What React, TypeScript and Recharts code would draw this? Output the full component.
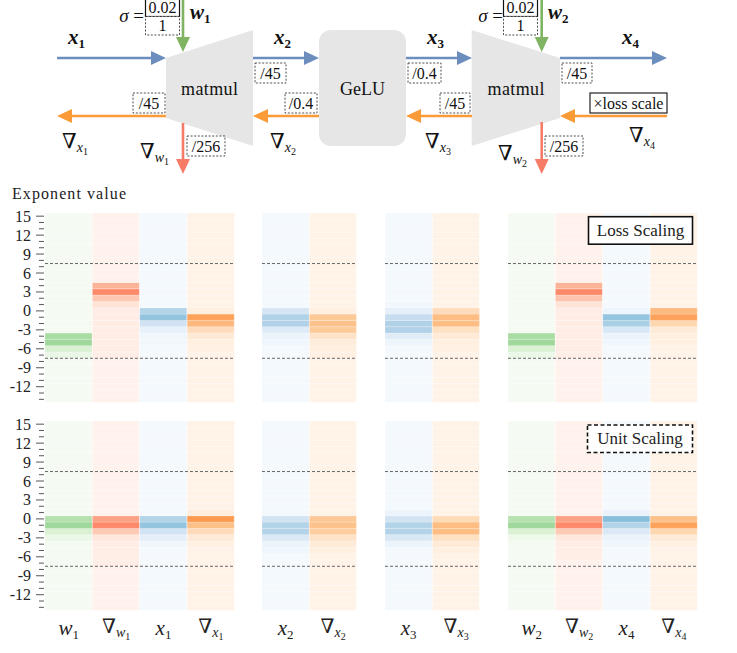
import React from 'react';
import { BarChart, Bar, XAxis, YAxis, Cell, ReferenceLine } from 'recharts';

// exponent bins (one heatmap row each) and the dashed range markers
const exponents = [-14, -13, -12, -11, -10, -9, -8, -7, -6, -5, -4, -3, -2, -1, 0, 1, 2, 3, 4, 5, 6, 7, 8, 9, 10, 11, 12, 13, 14, 15];
const labelledTicks = [-12, -9, -6, -3, 0, 3, 6, 9, 12, 15];
const rangeLines = [7.5, -7.5];
const backgroundLevel = 0.015;

// columns: kind picks the colour map, sub is the index
const group1 = [
  { id: 'w1', kind: 'w', sub: '1' },
  { id: 'gw1', kind: 'gw', sub: '1' },
  { id: 'x1', kind: 'x', sub: '1' },
  { id: 'gx1', kind: 'gx', sub: '1' },
];
const group2 = [
  { id: 'x2', kind: 'x', sub: '2' },
  { id: 'gx2', kind: 'gx', sub: '2' },
];
const group3 = [
  { id: 'x3', kind: 'x', sub: '3' },
  { id: 'gx3', kind: 'gx', sub: '3' },
];
const group4 = [
  { id: 'w2', kind: 'w', sub: '2' },
  { id: 'gw2', kind: 'gw', sub: '2' },
  { id: 'x4', kind: 'x', sub: '4' },
  { id: 'gx4', kind: 'gx', sub: '4' },
];

// [exponent, colour level]
const lossW1 = [[-4, 0.35], [-5, 0.38], [-6, 0.175], [-7, 0.09]];
const lossGw1 = [[4, 0.27], [3, 0.4], [2, 0.21], [1, 0.11], [0, 0.045], [-1, 0.045], [-2, 0.045], [-3, 0.045], [-4, 0.045], [-5, 0.045], [-6, 0.045], [-7, 0.04]];
const lossX1 = [[0, 0.31], [-1, 0.4], [-2, 0.195], [-3, 0.08], [-4, 0.04], [-5, 0.03]];
const lossGx1 = [[0, 0.05], [-1, 0.42], [-2, 0.335], [-3, 0.18], [-4, 0.1], [-5, 0.05], [-6, 0.04]];
const lossX2 = [[0, 0.17], [-1, 0.32], [-2, 0.32], [-3, 0.13], [-4, 0.06], [-5, 0.04]];
const lossGx2 = [[0, 0.04], [-1, 0.275], [-2, 0.3], [-3, 0.27], [-4, 0.14], [-5, 0.075], [-6, 0.05], [-7, 0.04]];
const lossX3 = [[1, 0.03], [0, 0.09], [-1, 0.245], [-2, 0.32], [-3, 0.32], [-4, 0.12], [-5, 0.05]];
const lossGx3 = [[0, 0.18], [-1, 0.32], [-2, 0.32], [-3, 0.16], [-4, 0.09], [-5, 0.05], [-6, 0.04]];
const lossW2 = [[-4, 0.35], [-5, 0.38], [-6, 0.17], [-7, 0.08]];
const lossGw2 = [[4, 0.27], [3, 0.4], [2, 0.22], [1, 0.11], [0, 0.045], [-1, 0.045], [-2, 0.045], [-3, 0.045], [-4, 0.045], [-5, 0.045], [-6, 0.045], [-7, 0.04]];
const lossX4 = [[0, 0.05], [-1, 0.4], [-2, 0.34], [-3, 0.155], [-4, 0.06], [-5, 0.04]];
const lossGx4 = [[0, 0.33], [-1, 0.42], [-2, 0.21], [-3, 0.09], [-4, 0.05], [-5, 0.04]];

// [exponent, colour level]
const unitW1 = [[0, 0.31], [-1, 0.38], [-2, 0.17], [-3, 0.08], [-4, 0.03]];
const unitGw1 = [[0, 0.33], [-1, 0.4], [-2, 0.2], [-3, 0.08], [-4, 0.045], [-5, 0.045], [-6, 0.04], [-7, 0.04]];
const unitX1 = [[0, 0.31], [-1, 0.4], [-2, 0.19], [-3, 0.09], [-4, 0.04]];
const unitGx1 = [[1, 0.06], [0, 0.45], [-1, 0.31], [-2, 0.18], [-3, 0.09], [-4, 0.04]];
const unitX2 = [[0, 0.19], [-1, 0.31], [-2, 0.31], [-3, 0.14], [-4, 0.06], [-5, 0.04]];
const unitGx2 = [[0, 0.28], [-1, 0.3], [-2, 0.26], [-3, 0.14], [-4, 0.08], [-5, 0.05]];
const unitX3 = [[1, 0.06], [0, 0.19], [-1, 0.31], [-2, 0.31], [-3, 0.15], [-4, 0.06]];
const unitGx3 = [[0, 0.19], [-1, 0.32], [-2, 0.32], [-3, 0.16], [-4, 0.09], [-5, 0.05]];
const unitW2 = [[0, 0.31], [-1, 0.38], [-2, 0.17], [-3, 0.06]];
const unitGw2 = [[0, 0.33], [-1, 0.4], [-2, 0.2], [-3, 0.08], [-4, 0.045], [-5, 0.045], [-6, 0.04]];
const unitX4 = [[1, 0.07], [0, 0.43], [-1, 0.31], [-2, 0.14], [-3, 0.06], [-4, 0.04]];
const unitGx4 = [[0, 0.31], [-1, 0.42], [-2, 0.21], [-3, 0.09], [-4, 0.04]];

const lossPanel = {
  w1: lossW1, gw1: lossGw1, x1: lossX1, gx1: lossGx1, x2: lossX2, gx2: lossGx2,
  x3: lossX3, gx3: lossGx3, w2: lossW2, gw2: lossGw2, x4: lossX4, gx4: lossGx4,
};
const unitPanel = {
  w1: unitW1, gw1: unitGw1, x1: unitX1, gx1: unitGx1, x2: unitX2, gx2: unitGx2,
  x3: unitX3, gx3: unitGx3, w2: unitW2, gw2: unitGw2, x4: unitX4, gx4: unitGx4,
};

// sequential colour maps (Greens / Reds / Blues / Oranges)
const colourMaps = {
  w: ['#f7fcf5', '#e5f5e0', '#c7e9c0', '#a1d99b', '#74c476', '#41ab5d', '#238b45', '#006d2c', '#00441b'],
  gw: ['#fff5f0', '#fee0d2', '#fcbba1', '#fc9272', '#fb6a4a', '#ef3b2c', '#cb181d', '#a50f15', '#67000d'],
  x: ['#f7fbff', '#deebf7', '#c6dbef', '#9ecae1', '#6baed6', '#4292c6', '#2171b5', '#08519c', '#08306b'],
  gx: ['#fff5eb', '#fee6ce', '#fdd0a2', '#fdae6b', '#fd8d3c', '#f16913', '#d94801', '#a63603', '#7f2704'],
};

function mapColour(stops: string[], t: number) {
  const p = Math.max(0, Math.min(1, t)) * (stops.length - 1);
  const i = Math.min(stops.length - 2, Math.floor(p));
  const f = p - i;
  const a = stops[i], b = stops[i + 1];
  const ch = (s: string, k: number) => parseInt(s.slice(1 + 2 * k, 3 + 2 * k), 16);
  const out = [0, 1, 2].map((k) => Math.round(ch(a, k) + (ch(b, k) - ch(a, k)) * f));
  return `rgb(${out.join(',')})`;
}

function levelOf(panel: any, id: string, e: number) {
  const hit = panel[id].find((p: number[]) => p[0] === e);
  return hit ? hit[1] : backgroundLevel;
}

const serif = '"Liberation Serif", "DejaVu Serif", serif';
const topPad = 12;

function ExpTick(props: any) {
  const { x, y, payload } = props;
  const major = labelledTicks.includes(payload.value);
  return (
    <g>
      <line x1={x - 1} x2={x - (major ? 9 : 6)} y1={y} y2={y} stroke="#555" strokeWidth={1} />
      {major && (
        <text x={x - 14} y={y + 5.5} textAnchor="end" fontFamily={serif} fontSize={16} fill="#222">
          {payload.value}
        </text>
      )}
    </g>
  );
}

function ColumnTick(props: any) {
  const { x, y, payload, cols } = props;
  const col = cols.find((c: any) => c.id === payload.value);
  if (!col) return null;
  const base = col.kind === 'w' || col.kind === 'gw' ? 'w' : 'x';
  const grad = col.kind === 'gw' || col.kind === 'gx';
  if (!grad) {
    return (
      <text x={x} y={y + 25} textAnchor="middle" fontFamily={serif} fill="#222">
        <tspan fontSize={21} fontStyle="italic">{base}</tspan>
        <tspan fontSize={13} dy={4}>{col.sub}</tspan>
      </text>
    );
  }
  return (
    <text x={x} y={y + 23} textAnchor="middle" fontFamily={serif} fill="#222">
      <tspan fontSize={20}>∇</tspan>
      <tspan fontSize={14} fontStyle="italic" dy={4}>{base}</tspan>
      <tspan fontSize={10} dy={3}>{col.sub}</tspan>
    </text>
  );
}

function Heat({ cols, panel, width, height, showY, showX }: any) {
  const data = cols.map((c: any) => {
    const row: any = { name: c.id, base: -14.5 };
    exponents.forEach((e) => { row['e' + e] = 1; });
    return row;
  });
  return (
    <BarChart
      width={width}
      height={height}
      data={data}
      margin={{ top: topPad, right: 0, bottom: 0, left: 0 }}
      barCategoryGap={0}
      barGap={0}
      stackOffset="none"
    >
      <XAxis
        dataKey="name"
        hide={!showX}
        height={40}
        axisLine={false}
        tickLine={false}
        tickSize={0}
        tickMargin={0}
        interval={0}
        tick={<ColumnTick cols={cols} />}
      />
      <YAxis
        type="number"
        domain={[-14.5, 15.5]}
        allowDataOverflow
        hide={!showY}
        width={45}
        ticks={exponents}
        interval={0}
        axisLine={false}
        tickLine={false}
        tickSize={0}
        tickMargin={0}
        tick={<ExpTick />}
      />
      <Bar dataKey="base" stackId="s" fill="none" isAnimationActive={false} />
      {exponents.map((e) => (
        <Bar
          key={e}
          dataKey={'e' + e}
          stackId="s"
          isAnimationActive={false}
          stroke="#ffffff"
          strokeOpacity={0.35}
          strokeWidth={0.6}
        >
          {cols.map((c: any) => (
            <Cell key={c.id} fill={mapColour((colourMaps as any)[c.kind], levelOf(panel, c.id, e))} />
          ))}
        </Bar>
      ))}
      {rangeLines.map((v) => (
        <ReferenceLine key={v} y={v} stroke="#666" strokeWidth={1} strokeDasharray="3 2" />
      ))}
    </BarChart>
  );
}

const blue = '#6c8ebf';
const green = '#80b463';
const orange = '#fa9b38';
const red = '#f77c68';

function Arrow({ x1, y1, x2, y2, color }: any) {
  const len = Math.hypot(x2 - x1, y2 - y1);
  const ux = (x2 - x1) / len, uy = (y2 - y1) / len;
  const hl = 15, hw = 7;
  const bx = x2 - ux * hl, by = y2 - uy * hl;
  const pts = `${x2},${y2} ${bx - uy * hw},${by + ux * hw} ${bx + uy * hw},${by - ux * hw}`;
  return (
    <g>
      <line x1={x1} y1={y1} x2={bx + ux * 1} y2={by + uy * 1} stroke={color} strokeWidth={2.6} />
      <polygon points={pts} fill={color} />
    </g>
  );
}

function Tag({ x, y, w, h, text, dashed }: any) {
  return (
    <g>
      <rect x={x} y={y} width={w} height={h} fill="#fff" stroke="#222" strokeWidth={dashed ? 0.8 : 1.2} strokeDasharray={dashed ? '2 1.6' : undefined} />
      <text x={x + w / 2} y={y + h / 2 + 5.5} textAnchor="middle" fontFamily={serif} fontSize={16} fill="#111">{text}</text>
    </g>
  );
}

function BoldVar({ x, y, base, sub }: any) {
  return (
    <text x={x} y={y} fontFamily={serif} fill="#111">
      <tspan fontSize={21} fontStyle="italic" fontWeight="bold">{base}</tspan>
      <tspan fontSize={13} fontWeight="bold" dy={4}>{sub}</tspan>
    </text>
  );
}

function GradVar({ x, y, base, sub }: any) {
  return (
    <text x={x} y={y} fontFamily={serif} fill="#111">
      <tspan fontSize={21}>∇</tspan>
      <tspan fontSize={14} fontStyle="italic" dy={4}>{base}</tspan>
      <tspan fontSize={10} dy={3}>{sub}</tspan>
    </text>
  );
}

function Sigma({ x, boxX }: any) {
  return (
    <g>
      <text x={x} y={22} fontFamily={serif} fontSize={19} fill="#111" textAnchor="end">
        <tspan fontStyle="italic">σ</tspan> =
      </text>
      <rect x={boxX} y={-1} width={34} height={17.5} fill="#fff" stroke="#111" strokeWidth={1.2} />
      <text x={boxX + 17} y={13} textAnchor="middle" fontFamily={serif} fontSize={16} fill="#111">0.02</text>
      <rect x={boxX} y={16.5} width={34} height={18.5} fill="#fff" stroke="#222" strokeWidth={0.8} strokeDasharray="2 1.6" />
      <text x={boxX + 17} y={31} textAnchor="middle" fontFamily={serif} fontSize={16} fill="#111">1</text>
    </g>
  );
}

function Diagram() {
  return (
    <svg width={737} height={653} style={{ position: 'absolute', left: 0, top: 0, pointerEvents: 'none' }}>
      <polygon points="166,58 253,30 253,146 166,118" fill="#e6e6e6" />
      <polygon points="471.7,30 560,58 560,118 471.7,146" fill="#e6e6e6" />
      <rect x={319} y={30} width={87} height={116} rx={12} fill="#e6e6e6" />
      <text x={209.5} y={95} textAnchor="middle" fontFamily={serif} fontSize={18} fill="#111" textLength={57} lengthAdjust="spacing">matmul</text>
      <text x={362.5} y={95} textAnchor="middle" fontFamily={serif} fontSize={18} fill="#111">GeLU</text>
      <text x={516} y={95} textAnchor="middle" fontFamily={serif} fontSize={18} fill="#111" textLength={57} lengthAdjust="spacing">matmul</text>

      <Arrow x1={57} y1={58} x2={166} y2={58} color={blue} />
      <Arrow x1={253} y1={58} x2={319} y2={58} color={blue} />
      <Arrow x1={406} y1={58} x2={472} y2={58} color={blue} />
      <Arrow x1={560} y1={58} x2={667} y2={58} color={blue} />
      <Arrow x1={166} y1={116} x2={57} y2={116} color={orange} />
      <Arrow x1={319} y1={116} x2={253} y2={116} color={orange} />
      <Arrow x1={472} y1={116} x2={406} y2={116} color={orange} />
      <Arrow x1={667} y1={116} x2={560} y2={116} color={orange} />
      <Arrow x1={183} y1={0} x2={183} y2={52} color={green} />
      <Arrow x1={541.7} y1={0} x2={541.7} y2={52} color={green} />
      <Arrow x1={183} y1={123} x2={183} y2={174} color={red} />
      <Arrow x1={541.7} y1={122} x2={541.7} y2={174} color={red} />

      <Sigma x={144} boxX={145.5} />
      <Sigma x={503} boxX={503.5} />
      <BoldVar x={190} y={19} base="w" sub="1" />
      <BoldVar x={548} y={19} base="w" sub="2" />
      <BoldVar x={68} y={44} base="x" sub="1" />
      <BoldVar x={274} y={44} base="x" sub="2" />
      <BoldVar x={427} y={44} base="x" sub="3" />
      <BoldVar x={622} y={44} base="x" sub="4" />

      <Tag x={255} y={63} w={31} h={20} text="/45" dashed />
      <Tag x={133} y={93} w={32} h={20} text="/45" dashed />
      <Tag x={285} y={93} w={32} h={20} text="/0.4" dashed />
      <Tag x={408} y={63} w={33} h={20} text="/0.4" dashed />
      <Tag x={440} y={93} w={30} h={20} text="/45" dashed />
      <Tag x={562} y={63} w={30} h={20} text="/45" dashed />
      <Tag x={187} y={136} w={38} h={20} text="/256" dashed />
      <Tag x={545} y={136} w={38} h={20} text="/256" dashed />
      <Tag x={590} y={93} w={77} h={20} text="×loss scale" />

      <GradVar x={62} y={148} base="x" sub="1" />
      <GradVar x={270} y={148} base="x" sub="2" />
      <GradVar x={425} y={148} base="x" sub="3" />
      <GradVar x={629} y={142} base="x" sub="4" />
      <GradVar x={140} y={158} base="w" sub="1" />
      <GradVar x={498} y={160} base="w" sub="2" />

      <text x={12} y={199} fontFamily={serif} fontSize={16} fill="#222" textLength={114} lengthAdjust="spacing">Exponent value</text>

      <rect x={588.5} y={216.7} width={104} height={27.5} fill="#fff" stroke="#111" strokeWidth={1.6} />
      <text x={640.5} y={236} textAnchor="middle" fontFamily={serif} fontSize={17} fill="#222">Loss Scaling</text>
      <rect x={587.5} y={425} width={105} height={27.5} fill="#fff" stroke="#111" strokeWidth={1.6} strokeDasharray="4 2.5" />
      <text x={640} y={444} textAnchor="middle" fontFamily={serif} fontSize={17} fill="#222">Unit Scaling</text>
    </svg>
  );
}

const groupLayout = [
  { cols: group1, left: 0, width: 234.6, showY: true },
  { cols: group2, left: 262.4, width: 94.8, showY: false },
  { cols: group3, left: 385, width: 94.8, showY: false },
  { cols: group4, left: 508, width: 189.6, showY: false },
];

export default function App() {
  return (
    <div style={{ position: 'absolute', left: 0, top: 0, width: 737, height: 653, background: '#fff', overflow: 'hidden' }}>
      {groupLayout.map((g, i) => (
        <div key={'loss' + i} style={{ position: 'absolute', left: g.left, top: 213.3 - topPad }}>
          <Heat cols={g.cols} panel={lossPanel} width={g.width} height={189.5 + topPad} showY={g.showY} showX={false} />
        </div>
      ))}
      {groupLayout.map((g, i) => (
        <div key={'unit' + i} style={{ position: 'absolute', left: g.left, top: 421 - topPad }}>
          <Heat cols={g.cols} panel={unitPanel} width={g.width} height={229.5 + topPad} showY={g.showY} showX={true} />
        </div>
      ))}
      <Diagram />
    </div>
  );
}
